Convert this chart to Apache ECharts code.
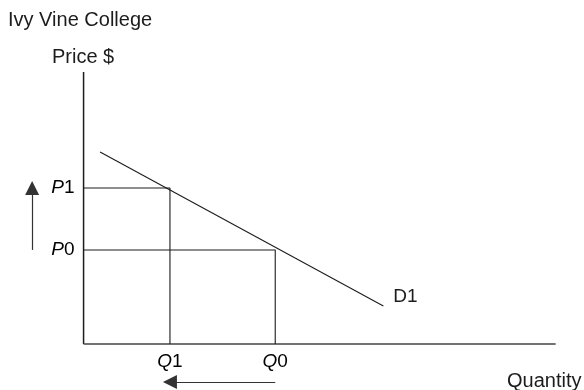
<!DOCTYPE html>
<html>
<head>
<meta charset="utf-8">
<script src="https://cdn.jsdelivr.net/npm/echarts@6/dist/echarts.min.js"></script>
<style>
  html, body { margin: 0; padding: 0; background: #fff; }
  #chart { width: 584px; height: 390px; }
</style>
</head>
<body>
<div id="chart"></div>
<script>
  // values (quantity 0..100 along the x axis, price 0..100 up the y axis)
  var priceNames = ['P0', 'P1'];
  var prices = [34.6, 57.4];
  var quantityNames = ['Q0', 'Q1'];
  var quantities = [40.6, 18.3];
  var demandName = 'D1';
  var demandPoints = [[3.5, 70.6], [63.5, 14.0]];
  var chartTitle = 'Ivy Vine College';
  var yName = 'Price $';
  var xName = 'Quantity';

  var FONT = 'Liberation Sans, Arial, Helvetica, sans-serif';
  var INK = '#1c1c1c';
  // where the two arrows sit, outside the axes box
  var ARROW_X = -10.9;
  var ARROW_Y = -14.0;

  var chart = echarts.init(document.getElementById('chart'));

  function plain(data, color, width) {
    return {
      type: 'line',
      data: data,
      showSymbol: false,
      silent: true,
      animation: false,
      lineStyle: { color: color, width: width }
    };
  }

  var series = [];

  // axes drawn as lines so they stop at the origin
  var yAxisLine = plain([[0, 0], [0, 100]], INK, 1.5);
  yAxisLine.markLine = {
    silent: true,
    animation: false,
    symbol: ['none', 'triangle'],
    symbolSize: 14,
    label: { show: false },
    lineStyle: { type: 'solid', color: '#333', width: 1.2 },
    data: [
      [{ coord: [ARROW_X, prices[0]] }, { coord: [ARROW_X, prices[1]] }],
      [{ coord: [quantities[0], ARROW_Y] }, { coord: [quantities[1], ARROW_Y] }]
    ]
  };
  series.push(yAxisLine);
  series.push(plain([[0, 0], [100, 0]], '#444', 1.5));

  // guide lines from each price to its quantity
  for (var i = 0; i < prices.length; i++) {
    series.push(plain([[0, prices[i]], [quantities[i], prices[i]], [quantities[i], 0]], INK, 1.1));
  }

  // demand curve
  var demand = plain(demandPoints, INK, 1.1);
  demand.endLabel = {
    show: true,
    formatter: demandName,
    distance: 10,
    offset: [0, -9],
    fontFamily: FONT,
    fontSize: 19,
    color: INK
  };
  series.push(demand);

  // P and Q labels on the axes
  var labelData = [];
  for (var j = 0; j < prices.length; j++) {
    labelData.push({
      value: [0, prices[j]],
      name: priceNames[j],
      label: { position: 'left', distance: 9 }
    });
    labelData.push({
      value: [quantities[j], 0],
      name: quantityNames[j],
      label: { position: 'bottom', distance: 8 }
    });
  }
  series.push({
    type: 'scatter',
    symbolSize: 0,
    silent: true,
    animation: false,
    itemStyle: { color: '#000' },
    data: labelData,
    label: {
      show: true,
      fontFamily: FONT,
      fontSize: 19,
      color: '#000',
      opacity: 1,
      formatter: function (p) {
        return '{i|' + p.name.charAt(0) + '}{n|' + p.name.slice(1) + '}';
      },
      rich: {
        i: { fontStyle: 'italic', fontFamily: FONT, fontSize: 19, color: '#000' },
        n: { fontFamily: FONT, fontSize: 19, color: '#000' }
      }
    }
  });

  var nameStyle = { fontFamily: FONT, fontSize: 20, fontWeight: 'normal', color: INK };

  chart.setOption({
    animation: false,
    title: [
      { text: chartTitle, left: 8, top: 10, padding: 0, textStyle: nameStyle },
      { text: yName, left: 52, top: 47, padding: 0, textStyle: nameStyle },
      { text: xName, left: 507, top: 371, padding: 0, textStyle: nameStyle }
    ],
    grid: { left: 0, right: 0, top: 0, bottom: 0 },
    xAxis: { type: 'value', min: -17.7, max: 106.0, show: false },
    yAxis: { type: 'value', min: -16.9, max: 126.5, show: false },
    series: series
  });
</script>
</body>
</html>
